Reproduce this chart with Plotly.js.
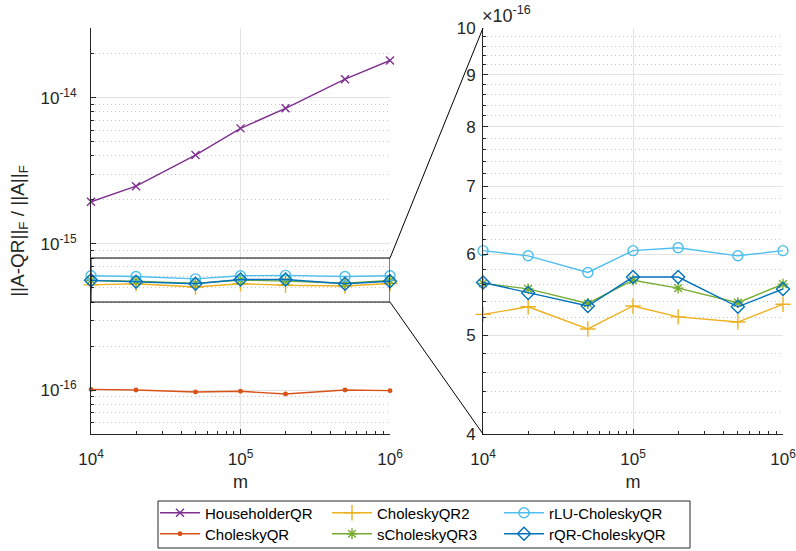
<!DOCTYPE html>
<html>
<head>
<meta charset="utf-8">
<script src="https://cdn.plot.ly/plotly-3.0.1.min.js"></script>
<style>html,body{margin:0;padding:0;background:#fff;}#chart{width:796px;height:551px;}</style>
</head>
<body>
<div id="chart"></div>
<script>
// ---- data ----
const m = [1e4, 2e4, 5e4, 1e5, 2e5, 5e5, 1e6];
const householderQR = [1.94e-15, 2.48e-15, 4.05e-15, 6.17e-15, 8.46e-15, 1.34e-14, 1.80e-14];
const choleskyQR = [1.01e-16, 1.00e-16, 0.97e-16, 0.98e-16, 0.94e-16, 1.00e-16, 0.99e-16];
const choleskyQR2 = [5.24e-16, 5.33e-16, 5.07e-16, 5.34e-16, 5.21e-16, 5.15e-16, 5.36e-16];
const sCholeskyQR3 = [5.62e-16, 5.55e-16, 5.37e-16, 5.66e-16, 5.56e-16, 5.38e-16, 5.61e-16];
const rLUCholeskyQR = [6.05e-16, 5.98e-16, 5.76e-16, 6.05e-16, 6.09e-16, 5.98e-16, 6.05e-16];
const rQRCholeskyQR = [5.63e-16, 5.50e-16, 5.34e-16, 5.70e-16, 5.70e-16, 5.33e-16, 5.55e-16];

const seriesNames = ['HouseholderQR', 'CholeskyQR', 'CholeskyQR2', 'sCholeskyQR3', 'rLU-CholeskyQR', 'rQR-CholeskyQR'];
const xTickVals = [1e4, 1e5, 1e6];
const xTickText = ['10<sup>4</sup>', '10<sup>5</sup>', '10<sup>6</sup>'];
const yLeftTickVals = [1e-16, 1e-15, 1e-14];
const yLeftTickText = ['10<sup>-16</sup>', '10<sup>-15</sup>', '10<sup>-14</sup>'];
const yRightTickVals = [4e-16, 5e-16, 6e-16, 7e-16, 8e-16, 9e-16, 10e-16];
const yRightTickText = ['4', '5', '6', '7', '8', '9', '10'];
const zoomBox = [4e-16, 8e-16];

// ---- styling ----
const colors = ['#7E2F8E', '#D95319', '#EDB120', '#77AC30', '#4DBEEE', '#0072BD'];
const symbols = ['x-thin-open', 'circle', 'cross-thin-open', 'asterisk-open', 'circle-open', 'diamond-open'];
const sizes = [8, 3.5, 11, 9, 10, 10];
const legendRow = ['legend', 'legend2', 'legend', 'legend2', 'legend', 'legend2'];
const allSeries = [householderQR, choleskyQR, choleskyQR2, sCholeskyQR3, rLUCholeskyQR, rQRCholeskyQR];

const traces = [];
allSeries.forEach((ys, i) => {
  const base = {
    x: m, y: ys, type: 'scatter', mode: 'lines+markers', name: seriesNames[i],
    line: {color: colors[i], width: 1.4},
    marker: {symbol: symbols[i], size: sizes[i], color: colors[i], line: {color: colors[i], width: 1.4}},
    cliponaxis: false
  };
  traces.push(Object.assign({}, base, {xaxis: 'x', yaxis: 'y', legend: legendRow[i]}));
  if (i >= 2) {
    traces.push(Object.assign({}, base, {xaxis: 'x2', yaxis: 'y2', showlegend: false}));
  }
});

function decadeMinors(lo, hi) {
  const out = [];
  for (let e = -18; e <= 7; e++) {
    for (let k = 2; k <= 9; k++) {
      const v = k * Math.pow(10, e);
      if (v > lo * 1.0001 && v < hi * 0.9999) out.push(v);
    }
  }
  return out;
}
const xMinor = decadeMinors(1e4, 1e6);
const yLeftRange = [Math.log10(5e-17), Math.log10(3e-14)];
const yLeftMinor = decadeMinors(5e-17, 3.01e-14);
const yRightMinor = [];
for (let v = 4.2; v < 9.9; v += 0.2) { if (Math.abs(v - Math.round(v)) > 0.05) yRightMinor.push(v * 1e-16); }
const yRightRange = [Math.log10(4e-16), Math.log10(1e-15)];

const axCol = '#262626';
const gridCol = '#e3e3e3';
const minorGrid = {showgrid: true, gridcolor: '#c8c8c8', griddash: '1px,3px', gridwidth: 1};
const font = {family: 'Liberation Sans, Arial, sans-serif', size: 17, color: axCol};

function xAxis(domain, anchor) {
  return {
    type: 'log', range: [4, 6], domain: domain, anchor: anchor, automargin: false,
    tickvals: xTickVals, ticktext: xTickText, ticks: 'inside', ticklen: 5, tickcolor: axCol,
    showline: true, linecolor: axCol, linewidth: 1, mirror: false,
    showgrid: true, gridcolor: gridCol, gridwidth: 1, zeroline: false,
    tickfont: font, ticklabelstandoff: 10, ticklabeloverflow: 'allow',
    minor: {tickvals: xMinor, ticks: 'inside', ticklen: 3, tickcolor: axCol, showgrid: false},
    title: {text: 'm', font: {family: font.family, size: 18, color: axCol}, standoff: 6}
  };
}

const leftDomain = [0, 0.4321];
const rightDomain = [0.5665, 1];

// legend geometry (pixels in the 796x551 figure -> paper units)
const mg = {l: 91, r: 13, t: 28, b: 117};
const plotW = 796 - mg.l - mg.r, plotH = 551 - mg.t - mg.b;
const px2x = px => (px - mg.l) / plotW;
const py2y = py => (551 - mg.b - py) / plotH;
const legendCommon = {
  orientation: 'h', xanchor: 'left', yanchor: 'middle',
  borderwidth: 0, bgcolor: 'rgba(0,0,0,0)',
  font: {family: font.family, size: 15, color: '#000'},
  entrywidth: 117, itemwidth: 40, traceorder: 'normal'
};

const layout = {
  width: 796, height: 551,
  margin: Object.assign({autoexpand: false}, mg),
  paper_bgcolor: '#fff', plot_bgcolor: '#fff',
  font: font,
  showlegend: true,
  xaxis: xAxis(leftDomain, 'y'),
  xaxis2: xAxis(rightDomain, 'y2'),
  yaxis: {
    type: 'log', range: yLeftRange, domain: [0, 1], anchor: 'x', automargin: false,
    tickvals: yLeftTickVals, ticktext: yLeftTickText, ticks: 'inside', ticklen: 5, tickcolor: axCol,
    showline: true, linecolor: axCol, linewidth: 1,
    showgrid: true, gridcolor: gridCol, gridwidth: 1, zeroline: false,
    tickfont: font, ticklabelstandoff: 10, ticklabeloverflow: 'allow',
    minor: Object.assign({tickvals: yLeftMinor, ticks: 'inside', ticklen: 3, tickcolor: axCol}, minorGrid),
    title: {text: '||A-QR||<sub>F</sub> / ||A||<sub>F</sub>', font: {family: font.family, size: 19, color: axCol}, standoff: 10}
  },
  yaxis2: {
    type: 'log', range: yRightRange, domain: [0, 1], anchor: 'x2', automargin: false,
    tickvals: yRightTickVals, ticktext: yRightTickText, ticks: 'inside', ticklen: 5, tickcolor: axCol,
    showline: true, linecolor: axCol, linewidth: 1,
    showgrid: true, gridcolor: gridCol, gridwidth: 1, zeroline: false,
    tickfont: font, ticklabelstandoff: 3, ticklabeloverflow: 'allow',
    minor: Object.assign({tickvals: yRightMinor, ticks: 'inside', ticklen: 3, tickcolor: axCol}, minorGrid)
  },
  legend: Object.assign({x: px2x(155), y: py2y(513)}, legendCommon),
  legend2: Object.assign({x: px2x(155), y: py2y(534)}, legendCommon),
  annotations: [{
    xref: 'paper', yref: 'paper', x: rightDomain[0] - 0.004, y: 1.0, xanchor: 'left', yanchor: 'bottom',
    text: '×10<sup>-16</sup>', showarrow: false, font: {family: font.family, size: 18, color: axCol}
  }],
  shapes: []
};

// legend frame
layout.shapes.push({type: 'rect', xref: 'paper', yref: 'paper', x0: px2x(158), x1: px2x(690), y0: py2y(548), y1: py2y(501),
  line: {color: axCol, width: 1}, fillcolor: 'rgba(0,0,0,0)'});
// zoom box on the left axes
layout.shapes.push({type: 'rect', xref: 'x', yref: 'y', x0: m[0], x1: m[m.length - 1], y0: zoomBox[0], y1: zoomBox[1],
  line: {color: '#000', width: 1}, fillcolor: 'rgba(0,0,0,0)'});
// connector lines (paper coords derived from the axis ranges)
const frac = v => (Math.log10(v) - yLeftRange[0]) / (yLeftRange[1] - yLeftRange[0]);
layout.shapes.push({type: 'line', xref: 'paper', yref: 'paper', x0: leftDomain[1], y0: frac(zoomBox[1]), x1: rightDomain[0], y1: 1, line: {color: '#000', width: 1}});
layout.shapes.push({type: 'line', xref: 'paper', yref: 'paper', x0: leftDomain[1], y0: frac(zoomBox[0]), x1: rightDomain[0], y1: 0, line: {color: '#000', width: 1}});

Plotly.newPlot('chart', traces, layout, {displayModeBar: false, staticPlot: true});
</script>
</body>
</html>
